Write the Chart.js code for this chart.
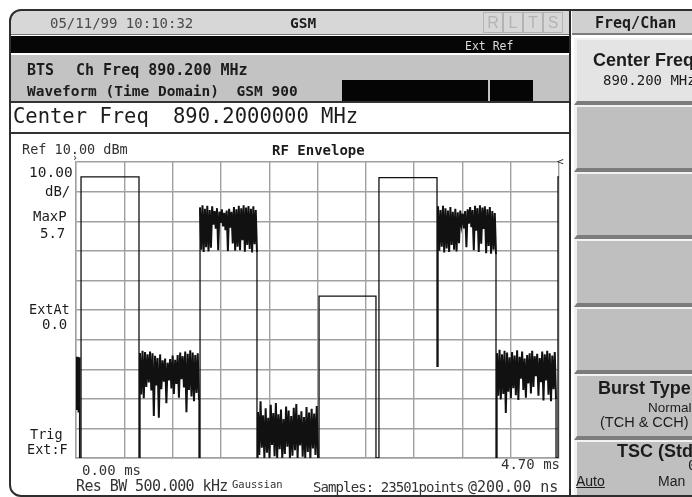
<!DOCTYPE html>
<html lang="en">
<head>
  <meta charset="UTF-8" />
  <title>RF Envelope | GSM 900</title>
  <script src="https://cdn.jsdelivr.net/npm/chart.js"></script>
  <style>
    html, body { margin: 0; padding: 0; background: #fff; }
    body { width: 692px; height: 497px; overflow: hidden; position: relative;
           font-family: "DejaVu Sans Mono", monospace; color: #1c1c1c; }
    .box { position: absolute; box-sizing: border-box; }
    .t { position: absolute; white-space: pre; line-height: 1; z-index: 3; }
    .b { font-weight: bold; }
    .sans { font-family: "Liberation Sans", Arial, sans-serif; }
    .key { position: absolute; left: 574px; width: 120px; box-sizing: border-box;
           background: #bfbfbf; border-left: 3px solid #f2f2f2; border-top: 2px solid #f2f2f2;
           border-bottom: 4px solid #7c7c7c; z-index: 2; }
    .flag { position: absolute; top: 12px; width: 20px; height: 21px; box-sizing: border-box;
            border: 1px solid #b4b4b4; color: #b4b4b4; text-align: center; line-height: 19px;
            font-family: "Liberation Sans", sans-serif; font-size: 16px; z-index: 3; }
    #wrap { position: absolute; left: 0; top: 0; width: 692px; height: 497px; z-index: 1; }
    #frame { position: absolute; left: 9px; top: 9px; width: 720px; height: 488px; box-sizing: border-box;
             border: 2px solid #2e2e2e; border-radius: 12px 0 0 12px; z-index: 10; pointer-events: none; }
  </style>
</head>
<body>
  <!-- instrument chrome -->
  <div class="box" style="left:10px;top:10px;width:560px;height:25px;background:#d7d7d7;border-top-left-radius:10px;border-bottom:1px solid #777;z-index:2"></div>
  <div class="box" style="left:10px;top:36px;width:560px;height:17px;background:#060606;z-index:2"></div>
  <div class="box" style="left:10px;top:55px;width:560px;height:46px;background:#c3c3c3;z-index:2"></div>
  <div class="box" style="left:342px;top:80px;width:146px;height:21px;background:#050505;z-index:2"></div>
  <div class="box" style="left:490px;top:80px;width:43px;height:21px;background:#050505;z-index:2"></div>
  <div class="box" style="left:10px;top:101px;width:560px;height:33px;background:#fff;border-top:2px solid #333;border-bottom:2px solid #333;z-index:2"></div>
  <div class="box" style="left:569px;top:10px;width:2px;height:487px;background:#2a2a2a;z-index:4"></div>

  <div class="flag" style="left:483px">R</div>
  <div class="flag" style="left:503px">L</div>
  <div class="flag" style="left:523px">T</div>
  <div class="flag" style="left:543px">S</div>

  <div class="t" style="left:50px;top:16px;font-size:14px;color:#4a4a4a">05/11/99 10:10:32</div>
  <div class="t b" style="left:290px;top:16px;font-size:14.5px">GSM</div>
  <div class="t" style="left:465px;top:41px;font-size:11.5px;color:#dcdcdc">Ext Ref</div>
  <div class="t b" style="left:27px;top:63px;font-size:15px">BTS</div>
  <div class="t b" style="left:76px;top:63px;font-size:15px">Ch Freq 890.200 MHz</div>
  <div class="t b" style="left:27px;top:84px;font-size:14.5px">Waveform (Time Domain)  GSM 900</div>
  <div class="t" style="left:13px;top:106px;font-size:20.5px">Center Freq</div>
  <div class="t" style="left:173px;top:106px;font-size:20.5px">890.2000000 MHz</div>

  <!-- softkey panel -->
  <div class="box" style="left:572px;top:11px;width:122px;height:24px;background:#d0d0d0;border-bottom:2px solid #7c7c7c;z-index:2"></div>
  <div class="key" style="top:38px;height:67px;background:#e4e4e4"></div>
  <div class="key" style="top:105px;height:67px"></div>
  <div class="key" style="top:172px;height:67px"></div>
  <div class="key" style="top:239px;height:68px"></div>
  <div class="key" style="top:307px;height:67px"></div>
  <div class="key" style="top:374px;height:66px"></div>
  <div class="key" style="top:440px;height:60px;border-bottom:none"></div>

  <div class="t b" style="left:595px;top:16px;font-size:15px">Freq/Chan</div>
  <div class="t b sans" style="left:593px;top:51px;font-size:18px">Center Freq</div>
  <div class="t" style="left:603px;top:73px;font-size:14px">890.200 MHz</div>
  <div class="t b sans" style="left:598px;top:379px;font-size:18px">Burst Type</div>
  <div class="t sans" style="left:648px;top:401px;font-size:13.5px">Normal</div>
  <div class="t sans" style="left:600px;top:415px;font-size:14.5px">(TCH &amp; CCH)</div>
  <div class="t b sans" style="left:617px;top:442px;font-size:18px">TSC (Std)</div>
  <div class="t" style="left:688px;top:458px;font-size:14px">0</div>
  <div class="t sans" style="left:576px;top:474px;font-size:14px;text-decoration:underline">Auto</div>
  <div class="t sans" style="left:658px;top:474px;font-size:14px">Man</div>

  <!-- plot annotations -->
  <div class="t" style="left:22px;top:143px;font-size:13.5px;color:#333">Ref 10.00 dBm</div>
  <div class="t b" style="left:272px;top:143px;font-size:14px">RF Envelope</div>
  <div class="t" style="left:29px;top:165px;font-size:14.5px">10.00</div>
  <div class="t" style="left:45px;top:184px;font-size:14px">dB/</div>
  <div class="t" style="left:33px;top:209px;font-size:14px">MaxP</div>
  <div class="t" style="left:40px;top:226px;font-size:14px">5.7</div>
  <div class="t" style="left:29px;top:303px;font-size:13.5px">ExtAt</div>
  <div class="t" style="left:42px;top:317px;font-size:14px">0.0</div>
  <div class="t" style="left:30px;top:428px;font-size:13.5px">Trig</div>
  <div class="t" style="left:27px;top:443px;font-size:13.5px">Ext:F</div>
  <div class="t" style="left:72px;top:153px;font-size:10px">&#8250;</div>
  <div class="t" style="left:557px;top:156px;font-size:11px">&lt;</div>
  <div class="t" style="left:82px;top:463px;font-size:14px;color:#333">0.00 ms</div>
  <div class="t" style="left:501px;top:457px;font-size:14px;color:#333">4.70 ms</div>
  <div class="t" style="left:76px;top:479px;font-size:15px;letter-spacing:-0.6px;color:#333">Res BW 500.000 kHz</div>
  <div class="t" style="left:232px;top:479px;font-size:10.5px;color:#333">Gaussian</div>
  <div class="t" style="left:313px;top:480px;font-size:14px;letter-spacing:-0.9px;color:#333">Samples: 23501points</div>
  <div class="t" style="left:468px;top:480px;font-size:15px;color:#333">@200.00 ns</div>

  <div id="wrap"><canvas id="envelope" width="692" height="497"></canvas></div>
  <div id="frame"></div>

  <script>
    // time axis 0 .. 4.70 ms, ten divisions; level axis 10 dB/div below Ref 10 dBm
    const timeGrid = [0, 0.47, 0.94, 1.41, 1.88, 2.35, 2.82, 3.29, 3.76, 4.23, 4.70];
    const levelGrid = [10, 0, -10, -20, -30, -40, -50, -60, -70, -80, -90];

    // burst edges in ms; flat carrier level in dBm (null = noisy burst)
    const slotStart = [0.000, 0.049, 0.623, 1.207, 1.771, 2.365, 2.948, 3.523, 4.097, 4.690];
    const slotEnd   = [0.035, 0.613, 1.197, 1.761, 2.355, 2.919, 3.513, 4.087, 4.671, 4.700];
    const slotLevel = [null, 5.0, null, null, null, -35.3, 4.7, null, null, 5.0];
    // how far the trace falls in the guard period after each burst
    const guardDip  = [-90, -90, -90, -90, -90, -90, -59, -90, -90];

    // noisy bursts: upper and lower edge of the trace band, left to right
    const tailTop  = [-56.5, -55.8, -57.2, -56.0];
    const tailLow  = [-73.8, -70.4, -74.6, -72.0];
    const slot2Top = [-54.5, -53.8, -54.2, -55.0, -54.0, -54.6, -55.5, -56.2, -55.0, -57.0, -56.4, -57.8,
                      -56.6, -55.4, -56.8, -55.2, -54.4, -55.6, -54.0, -54.8, -53.6, -54.4, -55.2, -54.6];
    const slot2Low = [-68.5, -69.8, -66.0, -64.5, -67.2, -75.8, -65.5, -76.4, -66.8, -64.2, -71.5, -63.8,
                      -66.5, -68.4, -65.0, -69.6, -63.4, -66.2, -74.5, -67.0, -69.2, -70.8, -68.0, -70.4];
    const slot3Top = [-5.4, -4.6, -5.8, -4.8, -6.2, -5.0, -6.6, -5.6, -6.8, -6.0, -7.2, -6.4,
                      -5.8, -6.8, -5.2, -6.0, -4.8, -5.6, -4.6, -5.4, -4.9, -5.8, -5.0, -6.2];
    const slot3Low = [-19.6, -20.4, -18.8, -20.2, -19.0, -11.2, -12.5, -19.8, -10.6, -11.8, -13.0, -20.1,
                      -12.2, -17.5, -20.0, -18.6, -19.8, -16.4, -20.3, -18.0, -19.4, -20.6, -17.8, -20.4];
    const slot4Top = [-74.5, -70.8, -75.6, -73.2, -76.4, -72.0, -74.8, -71.4, -75.2, -73.6, -76.8, -72.6,
                      -74.0, -75.8, -73.0, -71.8, -75.4, -74.2, -76.2, -72.8, -74.6, -73.4, -75.0, -72.4];
    const slot4Low = [-89.0, -86.5, -90.0, -88.2, -90.0, -85.6, -89.4, -90.0, -87.0, -90.0, -88.6, -86.2,
                      -90.0, -89.2, -87.4, -90.0, -85.8, -89.6, -90.0, -88.0, -90.0, -86.8, -89.0, -90.0];
    const slot7Top = [-5.0, -6.2, -4.8, -5.6, -6.4, -5.2, -6.8, -5.8, -7.0, -6.4, -7.4, -6.6,
                      -6.0, -5.2, -6.2, -4.8, -5.6, -4.6, -5.4, -5.0, -6.0, -5.2, -6.6, -7.2];
    const slot7Low = [-20.0, -18.6, -20.6, -19.2, -20.4, -18.0, -19.6, -20.2, -17.4, -11.0, -12.4, -18.8,
                      -10.8, -12.0, -19.8, -13.2, -20.4, -17.6, -12.6, -20.8, -18.4, -21.0, -19.6, -21.2];
    const slot8Top = [-54.6, -53.4, -55.0, -53.8, -54.4, -56.0, -54.2, -55.4, -53.6, -55.8, -54.0, -56.4,
                      -55.2, -54.6, -53.8, -55.6, -54.8, -56.2, -54.0, -55.0, -53.8, -54.6, -55.4, -54.2];
    const slot8Low = [-69.0, -70.2, -68.4, -74.8, -67.6, -69.8, -66.4, -68.8, -70.4, -63.2, -67.0, -69.6,
                      -64.8, -68.2, -66.0, -62.4, -69.0, -64.4, -70.6, -63.8, -68.6, -70.8, -66.8, -70.2];

    const bandTop = [tailTop, null, slot2Top, slot3Top, slot4Top, null, null, slot7Top, slot8Top, null];
    const bandLow = [tailLow, null, slot2Low, slot3Low, slot4Low, null, null, slot7Low, slot8Low, null];

    // one continuous trace, bursts joined through the guard dips
    const trace = [];
    slotStart.forEach((t0, i) => {
      const t1 = slotEnd[i];
      if (slotLevel[i] !== null) {
        trace.push({ x: t0, y: slotLevel[i] }, { x: t1, y: slotLevel[i] });
      } else {
        const top = bandTop[i], low = bandLow[i];
        const n = top.length * 2 - 1;
        top.forEach((v, k) => {
          trace.push({ x: t0 + (t1 - t0) * (2 * k) / n, y: v, noisy: true });
          trace.push({ x: t0 + (t1 - t0) * (2 * k + 1) / n, y: low[k], noisy: true });
        });
      }
      if (i < guardDip.length) {
        trace.push({ x: t1, y: guardDip[i] }, { x: slotStart[i + 1], y: guardDip[i] });
      }
    });

    const gridColor = '#a0a0a0';

    new Chart(document.getElementById('envelope'), {
      type: 'line',
      data: {
        datasets: [{
          data: trace,
          borderColor: '#111',
          borderWidth: 1.3,
          pointRadius: 0,
          tension: 0,
          fill: false,
          // noise bursts are drawn heavier so the band fills in black
          segment: {
            borderWidth: ctx => (trace[ctx.p0DataIndex].noisy && trace[ctx.p1DataIndex].noisy) ? 2 : 1.3
          }
        }]
      },
      options: {
        responsive: false,
        animation: false,
        devicePixelRatio: 1,
        layout: { padding: { left: 76, top: 162, right: 133, bottom: 39 } },
        plugins: {
          legend: { display: false },
          tooltip: { enabled: false }
        },
        scales: {
          x: {
            type: 'linear',
            min: 0,
            max: 4.7,
            afterBuildTicks: s => { s.ticks = timeGrid.map(v => ({ value: v })); },
            ticks: { display: false },
            grid: { color: gridColor, lineWidth: 1.4, drawTicks: false },
            border: { color: gridColor, width: 1.4 }
          },
          y: {
            min: -90,
            max: 10,
            afterBuildTicks: s => { s.ticks = levelGrid.map(v => ({ value: v })); },
            ticks: { display: false },
            grid: { color: gridColor, lineWidth: 1.4, drawTicks: false },
            border: { color: gridColor, width: 1.4 }
          }
        }
      }
    });
  </script>
</body>
</html>
